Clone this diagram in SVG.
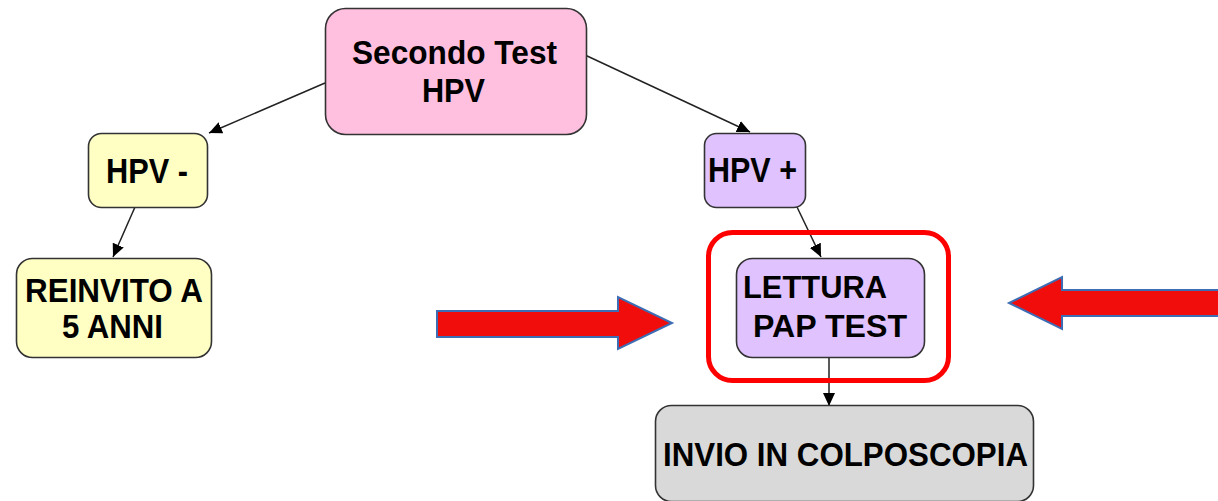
<svg xmlns="http://www.w3.org/2000/svg" width="1218" height="501" viewBox="0 0 1218 501">
  <style>
    .node { stroke: #333333; stroke-width: 1.6; }
    .lbl { font-family: "Liberation Sans", Arial, sans-serif; font-weight: bold; fill: #000000; }
    .conn { stroke: #222222; stroke-width: 1.5; fill: none; marker-end: url(#ah); }
    .big { fill: #F20D0D; stroke: #3C6DB5; stroke-width: 2; stroke-linejoin: miter; }
  </style>
  <defs>
    <marker id="ah" markerUnits="userSpaceOnUse" markerWidth="14" markerHeight="12" refX="13" refY="6" orient="auto">
      <path d="M0,0 L13,6 L0,12 z" fill="#000000"/>
    </marker>
  </defs>
  <rect width="1218" height="501" fill="#ffffff"/>

  <g id="connectors">
    <line class="conn" x1="325" y1="83" x2="209" y2="133"/>
    <line class="conn" x1="585" y1="55" x2="750" y2="132"/>
    <line class="conn" x1="135" y1="207" x2="113" y2="257"/>
    <line class="conn" x1="797" y1="207" x2="821" y2="257"/>
    <line class="conn" x1="829" y1="358" x2="829" y2="406"/>
  </g>

  <g id="secondo-test">
    <rect class="node" x="325.5" y="8.5" width="261" height="126" rx="20" fill="#FFBFDF"/>
    <text class="lbl" x="352" y="64" font-size="34" textLength="205" lengthAdjust="spacingAndGlyphs">Secondo Test</text>
    <text class="lbl" x="422" y="102" font-size="34" textLength="63" lengthAdjust="spacingAndGlyphs">HPV</text>
  </g>

  <g id="hpv-neg">
    <rect class="node" x="88.5" y="133.5" width="119" height="74" rx="13" fill="#FFFFC4"/>
    <text class="lbl" x="106" y="183" font-size="35" textLength="82" lengthAdjust="spacingAndGlyphs">HPV -</text>
  </g>

  <g id="reinvito">
    <rect class="node" x="16.5" y="258.5" width="195" height="99" rx="16" fill="#FFFFC4"/>
    <text class="lbl" x="25" y="302" font-size="33" textLength="178" lengthAdjust="spacingAndGlyphs">REINVITO A</text>
    <text class="lbl" x="62" y="338" font-size="33" textLength="101" lengthAdjust="spacingAndGlyphs">5 ANNI</text>
  </g>

  <g id="hpv-pos">
    <rect class="node" x="704.5" y="133.5" width="101" height="74" rx="12" fill="#E0C2FF"/>
    <text class="lbl" x="708" y="182" font-size="35" textLength="89" lengthAdjust="spacingAndGlyphs">HPV +</text>
  </g>

  <g id="highlight">
    <rect x="708.5" y="232.5" width="240" height="148" rx="24" fill="none" stroke="#FF0000" stroke-width="5"/>
  </g>

  <g id="lettura">
    <rect class="node" x="736.5" y="258.5" width="188" height="99" rx="16" fill="#E0C2FF"/>
    <text class="lbl" x="743" y="298" font-size="31" textLength="144" lengthAdjust="spacingAndGlyphs">LETTURA</text>
    <text class="lbl" x="753" y="337" font-size="31" textLength="154" lengthAdjust="spacingAndGlyphs">PAP TEST</text>
  </g>

  <g id="invio">
    <rect class="node" x="655.5" y="405.5" width="378" height="96" rx="16" fill="#D9D9D9"/>
    <text class="lbl" x="663" y="466" font-size="34" textLength="365" lengthAdjust="spacingAndGlyphs">INVIO IN COLPOSCOPIA</text>
  </g>

  <g id="arrow-left">
    <polygon class="big" points="437,311 618,311 618,297 672,323 618,349 618,337 437,337"/>
  </g>
  <g id="arrow-right">
    <polygon class="big" points="1220,290 1062,290 1062,277 1009,303 1062,329 1062,316 1220,316"/>
  </g>
</svg>
